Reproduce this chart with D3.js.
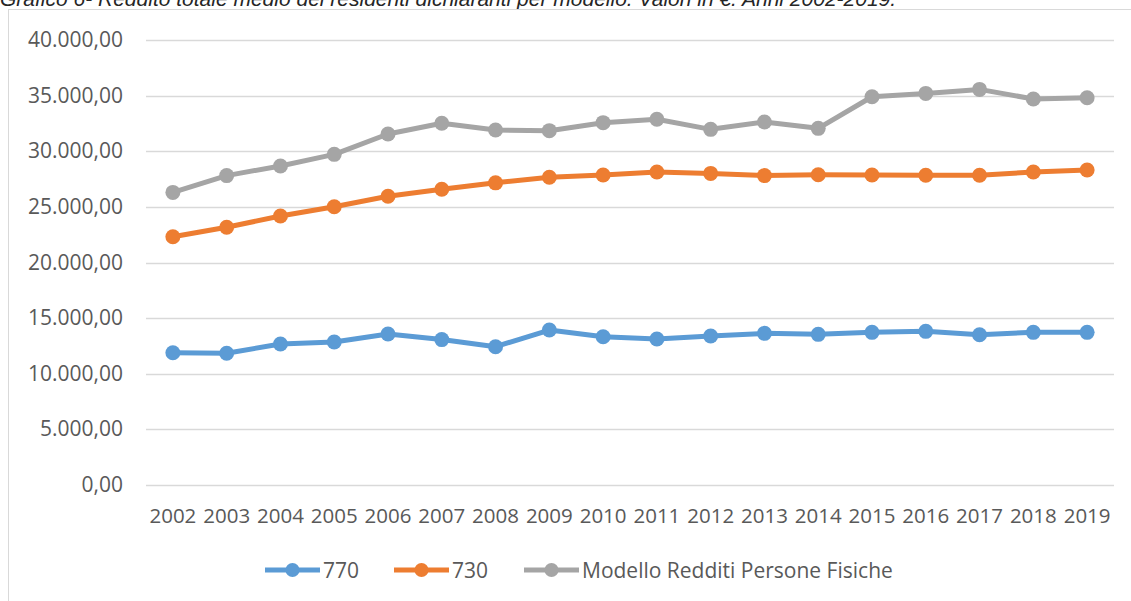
<!DOCTYPE html>
<html>
<head>
<meta charset="utf-8">
<script src="https://cdn.jsdelivr.net/npm/d3@7"></script>
<style>
  body { margin: 0; background: #fff; }
  svg { display: block; }
</style>
</head>
<body>
<div class="chart"></div>
<script>
const years = ['2002','2003','2004','2005','2006','2007','2008','2009','2010',
  '2011','2012','2013','2014','2015','2016','2017','2018','2019'];
const s770 = [11890,11840,12670,12860,13570,13070,12430,13930,13330,
  13120,13390,13630,13540,13720,13810,13510,13720,13720];
const s730 = [22320,23170,24180,25010,25950,26590,27160,27660,27860,
  28130,28010,27810,27890,27870,27840,27840,28130,28320];
const sRPF = [26300,27810,28680,29720,31550,32520,31910,31850,32570,
  32870,31970,32630,32060,34900,35200,35560,34700,34810];
const yTicks = [0,5000,10000,15000,20000,25000,30000,35000,40000];
const seriesNames = ['770','730','Modello Redditi Persone Fisiche'];
const colors = ['#5b9bd5','#ed7d31','#a5a5a5'];

const W = 1131, H = 601;
const svg = d3.select('.chart').append('svg').attr('width', W).attr('height', H);

// titolo (tagliato in alto come nell'originale)
svg.append('text')
  .attr('x', 0).attr('y', 6)
  .attr('font-family', 'Liberation Sans, Arial, sans-serif')
  .attr('font-style', 'italic')
  .attr('font-size', 21)
  .attr('fill', '#262626')
  .text('Grafico 6- Reddito totale medio dei residenti dichiaranti per modello. Valori in €. Anni 2002-2019.');

// bordo area grafico
svg.append('rect')
  .attr('x', 8.5).attr('y', 9.5)
  .attr('width', W + 20).attr('height', H + 20)
  .attr('fill', '#fff').attr('stroke', '#d9d9d9').attr('stroke-width', 1);

const pLeft = 146, pRight = 1114, pTop = 40, pBottom = 485;

const x = d3.scaleBand().domain(years).range([pLeft, pRight]);
const y = d3.scaleLinear().domain([0, 40000]).range([pBottom, pTop]);

const fmt = v => d3.format(',.2f')(v).replace(/,/g, 'X').replace('.', ',').replace(/X/g, '.');

// griglia
svg.append('g').selectAll('line').data(yTicks).enter().append('line')
  .attr('x1', pLeft).attr('x2', pRight)
  .attr('y1', d => Math.round(y(d)) + 0.5).attr('y2', d => Math.round(y(d)) + 0.5)
  .attr('stroke', '#d9d9d9').attr('stroke-width', 1.3);

const font = 'Open Sans, sans-serif';
svg.append('g').selectAll('text').data(yTicks).enter().append('text')
  .attr('x', 123).attr('y', d => y(d) + 7)
  .attr('text-anchor', 'end')
  .attr('font-family', font).attr('font-size', 21).attr('fill', '#595959')
  .text(fmt);

svg.append('g').selectAll('text').data(years).enter().append('text')
  .attr('x', d => x(d) + x.bandwidth() / 2).attr('y', 523)
  .attr('text-anchor', 'middle')
  .attr('font-family', font).attr('font-size', 20.5).attr('fill', '#595959')
  .text(d => d);

const series = [s770, s730, sRPF];
const line = d3.line()
  .x((d, i) => x(years[i]) + x.bandwidth() / 2)
  .y(d => y(d));

series.forEach((vals, k) => {
  const g = svg.append('g');
  g.append('path').datum(vals)
    .attr('d', line)
    .attr('fill', 'none')
    .attr('stroke', colors[k])
    .attr('stroke-width', 5)
    .attr('stroke-linejoin', 'round');
  g.selectAll('circle').data(vals).enter().append('circle')
    .attr('cx', (d, i) => x(years[i]) + x.bandwidth() / 2)
    .attr('cy', d => y(d))
    .attr('r', 7.5)
    .attr('fill', colors[k]);
});

// legenda
const legX = [265, 394, 524];
const leg = svg.append('g').selectAll('g').data(seriesNames).enter().append('g')
  .attr('transform', (d, i) => 'translate(' + legX[i] + ',570)');
leg.append('line')
  .attr('x1', 0).attr('x2', 55).attr('y1', 0).attr('y2', 0)
  .attr('stroke', (d, i) => colors[i]).attr('stroke-width', 5);
leg.append('circle')
  .attr('cx', 27.5).attr('cy', 0).attr('r', 7)
  .attr('fill', (d, i) => colors[i]);
leg.append('text')
  .attr('x', 58).attr('y', 7.5)
  .attr('font-family', font).attr('font-size', 21).attr('fill', '#595959')
  .text(d => d);
</script>
</body>
</html>
